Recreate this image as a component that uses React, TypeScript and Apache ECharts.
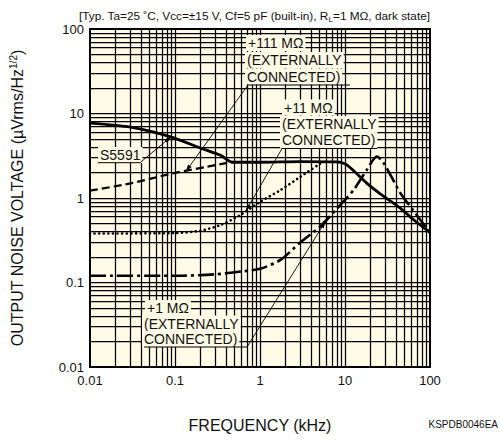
import React, { useEffect, useRef } from 'react';
import * as echarts from 'echarts';

// ---- data (frequency kHz, noise µVrms/Hz^1/2) ----
const xTickLabels = ['0.01', '0.1', '1', '10', '100'];
const yTickLabels = ['0.01', '0.1', '1', '10', '100'];

const s5591: [number, number][] = [
  [0.01, 7.7], [0.03, 6.9], [0.089, 5.3], [0.2, 3.9], [0.344, 3.2], [0.47, 2.65],
  [1, 2.65], [3, 2.7], [8, 2.68], [10.5, 2.46], [18, 1.5], [26, 1.12],
  [44.6, 0.76], [63, 0.56], [100, 0.39],
];
const ext111M: [number, number][] = [
  [0.01, 1.22], [0.03, 1.49], [0.1, 1.98], [0.24, 2.35], [0.41, 2.6], [0.47, 2.65],
];
const ext11M: [number, number][] = [
  [0.01, 0.38], [0.1, 0.385], [0.2, 0.41], [0.344, 0.48], [0.59, 0.63], [1.0, 0.9],
  [1.74, 1.24], [3, 1.79], [5.4, 2.65],
];
const ext1M: [number, number][] = [
  [0.01, 0.12], [0.1, 0.12], [0.3, 0.125], [0.6, 0.135], [1, 0.145], [1.74, 0.185],
  [3, 0.3], [5.1, 0.46], [9.6, 0.91], [12.6, 1.24], [18, 2.14], [23.7, 3.1],
  [28.4, 2.6], [35, 1.8], [44.6, 1.15], [63, 0.72], [100, 0.39],
];

// leader targets on curves (data coords)
const targetS5591: [number, number] = [0.09, 5.3];
const target111: [number, number] = [0.134, 2.06];
const target11: [number, number] = [0.68, 0.7];
const target1: [number, number] = [5.9, 0.53];

const FONT = '"Liberation Sans", Arial, Helvetica, sans-serif';
const BG = '#fffbe6';

function decadeGrid(): number[] {
  const out: number[] = [];
  for (let n = -2; n <= 1; n++) {
    for (let k = 1; k <= 9; k++) {
      const v = Number((k * Math.pow(10, n)).toPrecision(3));
      if (v > 0.01 && v < 100) out.push(v);
    }
  }
  return out;
}

export default function App() {
  const ref = useRef<HTMLDivElement>(null);
  useEffect(() => {
    document.body.style.margin = '0';
    const chart = echarts.init(ref.current!, null, { renderer: 'svg' });
    const gridVals = decadeGrid();
    const fmt = (v: number) => Number(v.toPrecision(3)).toString();
    const option: any = {
      animation: false,
      backgroundColor: '#ffffff',
      title: {
        text: '{a|[Typ. Ta=25 ˚C, Vcc=±15 V, Cf=5 pF (built-in), R}{s|L}{a|=1 MΩ, dark state]}',
        right: 70,
        top: 8,
        padding: 0,
        textStyle: {
          fontWeight: 'normal',
          rich: {
            a: { fontSize: 11.8, fontFamily: FONT, fontWeight: 'normal', color: '#111', lineHeight: 15 },
            s: { fontSize: 8, fontFamily: FONT, fontWeight: 'normal', color: '#111', lineHeight: 15, verticalAlign: 'bottom' },
          },
        },
      },
      grid: {
        left: 89, right: 70, top: 29, bottom: 74,
        show: true, backgroundColor: BG, borderColor: '#000', borderWidth: 2,
      },
      xAxis: {
        type: 'log', logBase: 10, min: 0.01, max: 100,
        name: 'FREQUENCY (kHz)', nameLocation: 'middle', nameGap: 50,
        nameTextStyle: { fontSize: 16, fontFamily: FONT, color: '#111' },
        axisLine: { show: false }, axisTick: { show: false }, splitLine: { show: false },
        axisLabel: {
          fontSize: 13, fontFamily: FONT, color: '#111', margin: 7,
          formatter: (v: number) => { const s = fmt(v); return xTickLabels.includes(s) ? s : ''; },
        },
      },
      yAxis: {
        type: 'log', logBase: 10, min: 0.01, max: 100,
        name: '{a|OUTPUT NOISE VOLTAGE (µVrms/Hz}{s|1/2}{a|)}',
        nameLocation: 'middle', nameGap: 64, nameRotate: 90,
        nameTextStyle: {
          rich: {
            a: { fontSize: 16, fontFamily: FONT, color: '#111', lineHeight: 18 },
            s: { fontSize: 10, fontFamily: FONT, color: '#111', lineHeight: 18, verticalAlign: 'top' },
          },
        },
        axisLine: { show: false }, axisTick: { show: false }, splitLine: { show: false },
        axisLabel: {
          fontSize: 13, fontFamily: FONT, color: '#111', margin: 6, padding: [6, 0, 0, 0],
          formatter: (v: number) => { const s = fmt(v); return yTickLabels.includes(s) ? s : ''; },
        },
      },
      series: [
        {
          type: 'line', data: [[0.01, 0.01]], z: 1, silent: true, showSymbol: false,
          lineStyle: { width: 0 },
          markLine: {
            silent: true, symbol: ['none', 'none'], label: { show: false },
            emphasis: { disabled: true },
            lineStyle: { color: '#000', width: 1.25, type: 'solid' },
            data: [
              ...gridVals.map((v) => ({ xAxis: v })),
              ...gridVals.map((v) => ({ yAxis: v })),
            ],
          },
        },
        {
          name: 'S5591', type: 'line', data: s5591, z: 4, smooth: 0.25, showSymbol: false, silent: true,
          lineStyle: { color: '#000', width: 2.8, type: 'solid' },
        },
        {
          name: '+111 MΩ', type: 'line', data: ext111M, z: 3, smooth: 0.25, showSymbol: false, silent: true,
          lineStyle: { color: '#000', width: 2.2, type: [8, 4] },
        },
        {
          name: '+11 MΩ', type: 'line', data: ext11M, z: 3, smooth: 0.25, showSymbol: false, silent: true,
          lineStyle: { color: '#000', width: 2.6, type: [0.1, 4.5], cap: 'round' },
        },
        {
          name: '+1 MΩ', type: 'line', data: ext1M, z: 3, smooth: 0.25, showSymbol: false, silent: true,
          lineStyle: { color: '#000', width: 2.6, type: [16, 4, 3, 4] },
        },
      ],
    };
    chart.setOption(option);

    const toPx = (p: [number, number]) => chart.convertToPixel({ gridIndex: 0 }, p) as number[];
    const els: any[] = [];
    const txt = (text: string, x: number, y: number, size = 14) => {
      els.push({
        type: 'text', z: 50, x, y, silent: true,
        style: {
          text, fontSize: size, fontFamily: FONT, fill: '#111',
          align: 'left', verticalAlign: 'middle',
          backgroundColor: BG, padding: [1, 2, 1, 2],
        },
      });
    };
    const line = (x1: number, y1: number, x2: number, y2: number, w = 1) => {
      els.push({ type: 'line', z: 51, silent: true, shape: { x1, y1, x2, y2 }, style: { stroke: '#000', lineWidth: w } });
    };
    const leader = (x1: number, y1: number, t: [number, number]) => {
      const [x2, y2] = toPx(t);
      line(x1, y1, x2, y2, 0.9);
      const dx = x2 - x1, dy = y2 - y1;
      const L = Math.hypot(dx, dy) || 1;
      const ux = dx / L, uy = dy / L;
      const bx = x2 - ux * 7, by = y2 - uy * 7;
      els.push({
        type: 'polygon', z: 52, silent: true,
        shape: { points: [[x2, y2], [bx - uy * 2.2, by + ux * 2.2], [bx + uy * 2.2, by - ux * 2.2]] },
        style: { fill: '#000' },
      });
    };

    // +111 MΩ label
    txt('+111 MΩ', 246, 43);
    txt('(EXTERNALLY', 245, 60);
    txt('CONNECTED)', 245, 76.5);
    line(247, 85, 350, 85);
    leader(248, 85, target111);

    // +11 MΩ label
    txt('+11 MΩ', 282, 107.5);
    txt('(EXTERNALLY', 280, 124);
    txt('CONNECTED)', 280, 140);
    line(282, 148.5, 377, 148.5);
    leader(282, 148.5, target11);

    // +1 MΩ label
    txt('+1 MΩ', 145, 308);
    txt('(EXTERNALLY', 142, 323.5);
    txt('CONNECTED)', 142, 339);
    line(144, 347, 247, 347);
    leader(247, 347, target1);

    // S5591 label
    txt('S5591', 98, 155);
    line(98, 162.7, 140, 162.7);
    leader(140, 162.7, targetS5591);

    // figure code
    els.push({
      type: 'text', z: 50, right: 2, top: 419, silent: true,
      style: { text: 'KSPDB0046EA', fontSize: 10, fontFamily: FONT, fill: '#111' },
    });

    chart.setOption({ graphic: els });
    return () => chart.dispose();
  }, []);
  return <div ref={ref} style={{ position: 'absolute', left: 0, top: 0, width: 500, height: 441 }} />;
}
